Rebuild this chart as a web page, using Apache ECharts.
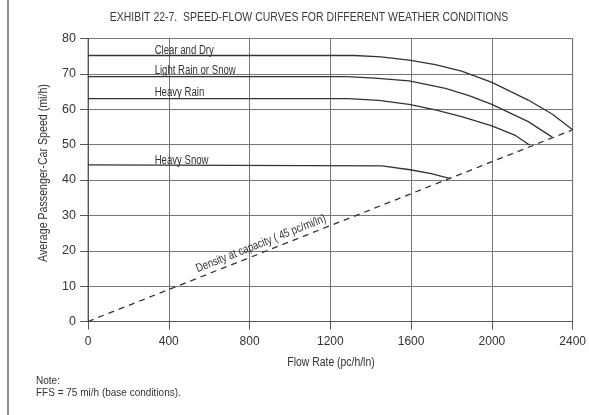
<!DOCTYPE html>
<html><head><meta charset="utf-8">
<script src="https://cdn.jsdelivr.net/npm/echarts@6/dist/echarts.min.js"></script>
<style>html,body{margin:0;padding:0;background:#fff}#c{width:589px;height:415px}</style>
</head><body><div id="c"></div>
<script>
// ---- data ----
const xTicks = [0, 400, 800, 1200, 1600, 2000, 2400];
const yTicks = [0, 10, 20, 30, 40, 50, 60, 70, 80];
const clearDry  = [[0,75.2],[1320,75.2],[1450,74.8],[1590,73.9],[1720,72.6],[1850,70.8],[2000,67.6],[2180,62.6],[2300,58.6],[2400,54.2]];
const lightRain = [[0,69.2],[1280,69.2],[1420,68.8],[1590,68.0],[1770,65.9],[1890,63.8],[2000,61.4],[2180,56.5],[2297,52.2]];
const heavyRain = [[0,63.0],[1290,63.0],[1440,62.5],[1590,61.4],[1720,59.8],[1850,57.9],[2000,55.3],[2113,52.7],[2188,49.8]];
const heavySnow = [[0,44.3],[1455,44.0],[1595,42.9],[1700,41.8],[1795,40.4]];
const capacity  = [[0,0],[2400,54.2]];
const curveNames = ['Clear and Dry','Light Rain or Snow','Heavy Rain','Heavy Snow'];
const labelAt = [[330,76.6],[330,70.8],[330,64.6],[330,45.6]];
const capLabel = 'Density at capacity ( 45 pc/mi/ln)';
const capLabelAt = [857, 22.0];
const titleText = 'EXHIBIT 22-7.  SPEED-FLOW CURVES FOR DIFFERENT WEATHER CONDITIONS';
const xName = 'Flow Rate (pc/h/ln)';
const yName = 'Average Passenger-Car Speed (mi/h)';
const noteText = 'Note:\nFFS = 75 mi/h (base conditions).';

const FONT = '"Liberation Sans",Arial,sans-serif';
const INK = '#333';
const NARROW = 0.8;
const chart = echarts.init(document.getElementById('c'));
const curveSeries = [clearDry, lightRain, heavyRain, heavySnow].map((d,i)=>({
  name: curveNames[i], type:'line', data:d, showSymbol:false, smooth:false,
  lineStyle:{color:INK,width:1.3}, silent:true
}));
chart.setOption({
  animation:false,
  backgroundColor:'#fff',
  grid:{left:88,right:14,top:38.5,bottom:93.5,show:true,borderColor:'#777',borderWidth:1},
  xAxis:{type:'value',min:xTicks[0],max:xTicks[xTicks.length-1],interval:xTicks[1]-xTicks[0],
    axisLine:{show:true,lineStyle:{color:'#555',width:1}},
    axisTick:{show:true,length:8,lineStyle:{color:'#555'}},
    axisLabel:{fontFamily:FONT,fontSize:12,color:INK,margin:14,formatter:v=>String(v)},
    splitLine:{show:true,lineStyle:{color:'#777',width:1}}},
  yAxis:{type:'value',min:yTicks[0],max:yTicks[yTicks.length-1],interval:yTicks[1]-yTicks[0],
    axisLine:{show:true,lineStyle:{color:'#555',width:1}},
    axisTick:{show:true,length:8,lineStyle:{color:'#555'}},
    axisLabel:{fontFamily:FONT,fontSize:12.5,color:INK,margin:12},
    splitLine:{show:true,lineStyle:{color:'#777',width:1}}},
  series: curveSeries.concat([{
    name:'capacity',type:'line',data:capacity,showSymbol:false,silent:true,
    lineStyle:{color:INK,width:1.3,type:[6,5]}
  }])
});
function txt(text,x,y,size,opt,sx){
  return Object.assign({type:'text',x:x,y:y,scaleX:sx||NARROW,
    style:{text:text,fontFamily:FONT,fontSize:size,fill:INK,textAlign:'center',textVerticalAlign:'middle'}},opt||{});
}
const p0 = chart.convertToPixel({gridIndex:0},capacity[0]);
const p1 = chart.convertToPixel({gridIndex:0},capacity[1]);
const ang = Math.atan2(p0[1]-p1[1], p1[0]-p0[0]);
const pc = chart.convertToPixel({gridIndex:0},capLabelAt);
const graphics = labelAt.map((a,i)=>{
  const p = chart.convertToPixel({gridIndex:0},a);
  const g = txt(curveNames[i],p[0],p[1],12);
  g.style.textAlign='left';
  return g;
});
graphics.push(txt(capLabel,pc[0],pc[1],12,{rotation:ang}));
const tg = txt(titleText,309,17,13.5,null,0.775); tg.style.fill='#3a3a3a';
graphics.push(tg);
graphics.push(txt(xName,331,362,13));
graphics.push(txt(yName,43,173,13.3,{rotation:Math.PI/2}));
graphics.push({type:'text',x:36,y:375,scaleX:0.87,style:{text:noteText,fontFamily:FONT,fontSize:11.5,lineHeight:12,fill:INK,textAlign:'left',textVerticalAlign:'top'}});
graphics.push({type:'line',shape:{x1:8,y1:0,x2:8,y2:415},style:{stroke:'#666',lineWidth:1.5}});
chart.setOption({graphic:graphics});
</script></body></html>
